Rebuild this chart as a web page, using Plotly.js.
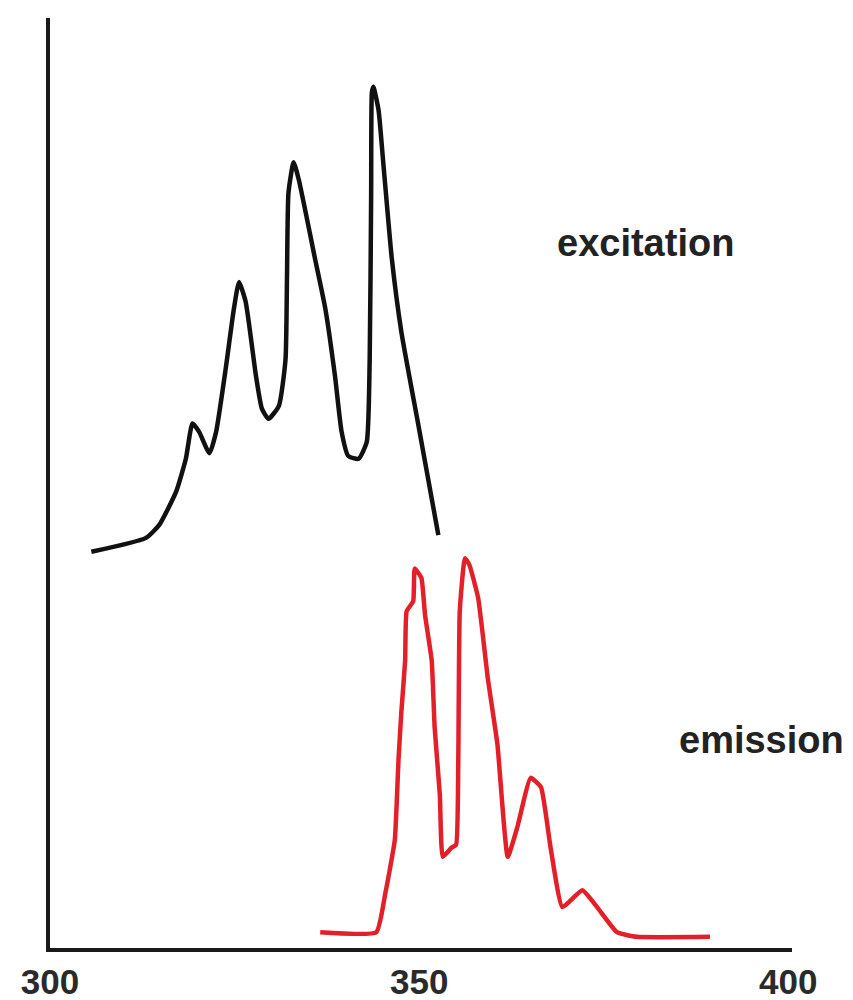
<!DOCTYPE html>
<html>
<head>
<meta charset="utf-8">
<script src="https://cdn.plot.ly/plotly-3.0.1.min.js"></script>
<style>html,body{margin:0;padding:0;background:#fff;}#chart{width:853px;height:1000px;}</style>
</head>
<body>
<div id="chart"></div>
<script>
// Excitation spectrum (wavelength nm, relative intensity)
const excitationX = [305.6, 313.0, 314.8, 317.1, 318.4, 319.3, 320.2, 321.6, 322.5, 323.8, 324.9, 325.6, 326.5, 327.9, 328.7, 329.6, 331.0, 331.9, 332.1, 332.3, 333.0, 333.7, 335.9, 337.3, 338.6, 339.5, 340.4, 341.8, 342.9, 343.3, 343.5, 343.6, 343.8, 344.5, 345.1, 346.3, 347.6, 349.9, 352.6];
const excitationY = [42.6, 44.1, 45.5, 49.1, 52.6, 56.4, 55.5, 53.2, 55.5, 62.3, 68.7, 71.6, 69.5, 61.5, 58.0, 56.9, 58.3, 63.3, 72.2, 81.2, 84.5, 82.6, 74.1, 68.7, 61.5, 55.5, 52.9, 52.6, 54.4, 63.3, 81.2, 92.0, 92.6, 90.1, 84.8, 74.1, 66.2, 56.2, 44.4];

// Emission spectrum
const emissionX = [336.6, 344.2, 345.4, 346.7, 347.2, 347.6, 348.1, 348.3, 349.2, 349.4, 350.3, 350.8, 351.7, 352.1, 352.8, 353.2, 354.4, 355.0, 355.3, 355.5, 356.2, 356.8, 358.0, 359.3, 360.6, 362.0, 363.3, 365.1, 366.5, 367.8, 369.4, 372.1, 374.1, 376.8, 379.5, 389.4];
const emissionY = [1.7, 1.7, 5.8, 11.6, 20.2, 25.5, 30.9, 36.2, 37.3, 40.8, 39.8, 35.8, 30.9, 23.7, 16.5, 9.8, 10.8, 11.1, 20.2, 36.2, 41.9, 41.2, 37.6, 29.0, 21.9, 9.8, 13.0, 18.3, 17.3, 10.8, 4.4, 6.2, 4.4, 1.7, 1.2, 1.2];

const tickValues = [300, 350, 400];
const tickLabels = ["300", "350", "400"];
const labels = ["excitation", "emission"];

const traces = [
  {x: excitationX, y: excitationY, mode: "lines", type: "scatter",
   line: {color: "#111111", width: 4.5, shape: "spline", smoothing: 0.5}, hoverinfo: "skip"},
  {x: emissionX, y: emissionY, mode: "lines", type: "scatter",
   line: {color: "#e3202a", width: 4.5, shape: "spline", smoothing: 0.4}, hoverinfo: "skip"}
];

const layout = {
  width: 853, height: 1000,
  margin: {l: 50, r: 61, t: 18, b: 52},
  paper_bgcolor: "#ffffff", plot_bgcolor: "#ffffff",
  showlegend: false,
  font: {family: "Liberation Sans, Arial, sans-serif", color: "#222222"},
  xaxis: {
    range: [300, 400.5], showgrid: false, zeroline: false,
    showline: true, linecolor: "#1a1a1a", linewidth: 4,
    tickvals: tickValues, ticktext: tickLabels, ticks: "",
    tickfont: {size: 35, weight: "bold", color: "#2a2a2a"},
    fixedrange: true
  },
  yaxis: {
    range: [0, 100], showgrid: false, zeroline: false,
    showline: true, linecolor: "#1a1a1a", linewidth: 4,
    showticklabels: false, ticks: "", fixedrange: true
  },
  annotations: [
    {x: 380.6, y: 75.8, xref: "x", yref: "y", text: labels[0], showarrow: false,
     xanchor: "center", yanchor: "middle", font: {size: 38, weight: "bold", color: "#222222"}},
    {x: 396.4, y: 22.4, xref: "x", yref: "y", text: labels[1], showarrow: false,
     xanchor: "center", yanchor: "middle", font: {size: 38, weight: "bold", color: "#222222"}}
  ]
};

Plotly.newPlot("chart", traces, layout, {displayModeBar: false, staticPlot: true});
</script>
</body>
</html>
